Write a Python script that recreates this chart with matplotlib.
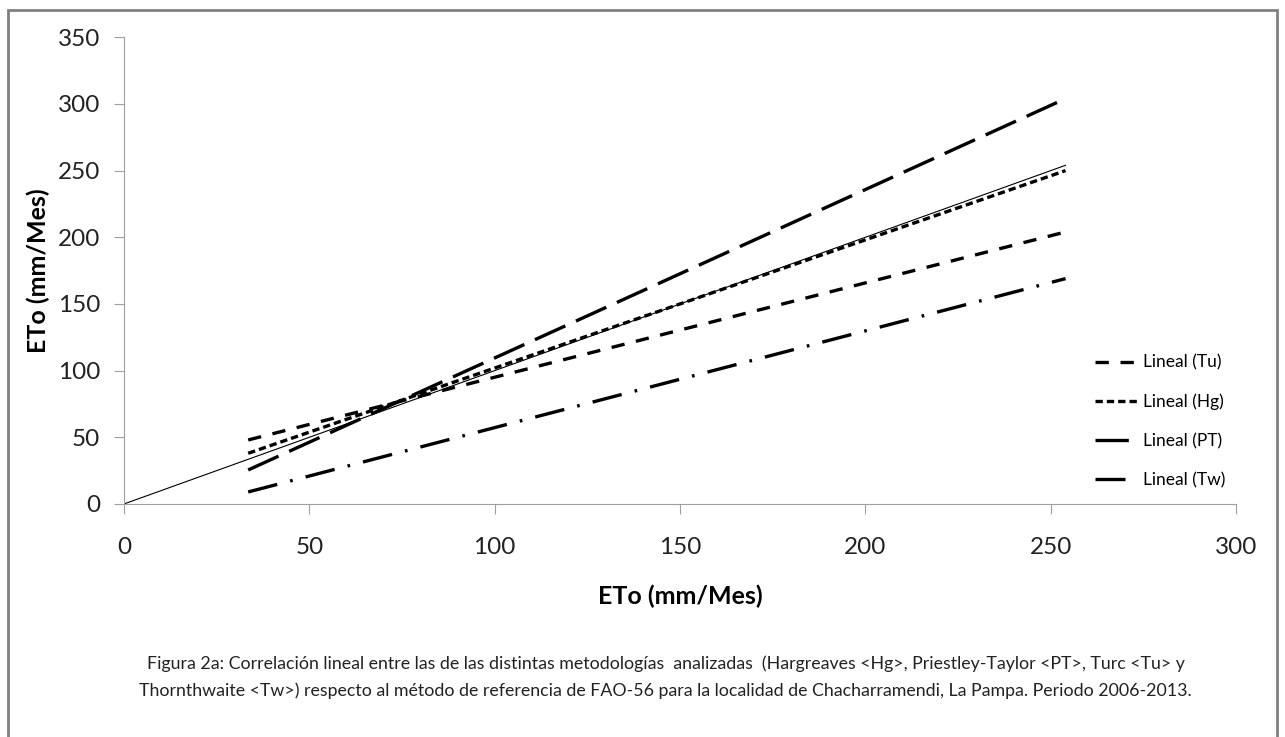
import matplotlib.pyplot as plt
from matplotlib.patches import Rectangle

plt.rcParams['font.family'] = ['Lato', 'DejaVu Sans']

# trend lines, read at both ends of the fitted range
x_ends = [33.5, 254]
tu_ends = [48, 204]
hg_ends = [38, 250]
pt_ends = [25.5, 304]
tw_ends = [9, 169]
ref_x = [0, 254]
ref_y = [0, 254]

labels = ['Lineal (Tu)', 'Lineal (Hg)', 'Lineal (PT)', 'Lineal (Tw)']
x_ticks = [0, 50, 100, 150, 200, 250, 300]
y_ticks = [0, 50, 100, 150, 200, 250, 300, 350]

caption = ("Figura 2a: Correlación lineal entre las de las distintas metodologías  analizadas  "
           "(Hargreaves <Hg>, Priestley-Taylor <PT>, Turc <Tu> y\n"
           "Thornthwaite <Tw>) respecto al método de referencia de FAO-56 para la localidad "
           "de Chacharramendi, La Pampa. Periodo 2006-2013.")

fig = plt.figure(figsize=(12.85, 7.37), dpi=100)
ax = fig.add_axes([0.0965, 0.3162, 0.8654, 0.6332])

ax.plot(ref_x, ref_y, color='black', linewidth=0.8)
lw = 2.4
ax.plot(x_ends, tu_ends, color='black', linewidth=lw, dashes=(4, 3.5), label=labels[0])
ax.plot(x_ends, hg_ends, color='black', linewidth=lw, dashes=(2.2, 1.2), label=labels[1])
ax.plot(x_ends, pt_ends, color='black', linewidth=lw, dashes=(10, 3.5), label=labels[2])
ax.plot(x_ends, tw_ends, color='black', linewidth=lw, dashes=(9, 4, 0.8, 4), label=labels[3])

ax.set_xlim(0, 300)
ax.set_ylim(0, 350)
ax.set_xticks(x_ticks)
ax.set_yticks(y_ticks)
ax.tick_params(labelsize=17.5, length=7, color='#a0a0a0', labelcolor='#222222')
ax.tick_params(axis='x', pad=17)
ax.tick_params(axis='y', pad=10)
for side in ['top', 'right']:
    ax.spines[side].set_visible(False)
for side in ['left', 'bottom']:
    ax.spines[side].set_color('#a0a0a0')

ax.set_xlabel('ETo (mm/Mes)', fontsize=18, fontweight='bold', labelpad=19)
ax.set_ylabel('ETo (mm/Mes)', fontsize=18, fontweight='bold', labelpad=6)

leg = ax.legend(loc='upper left', bbox_to_anchor=(0.873, 0.32), frameon=False,
                fontsize=12.5, handlelength=2.5, handletextpad=0.3, labelspacing=1.32,
                borderpad=0, borderaxespad=0)

fig.text(0.518, 0.081, caption, ha='center', va='center', fontsize=12.8,
         linespacing=1.75, color='#222222')

fig.patches.append(Rectangle((8 / 1285, -0.05), 1269 / 1285, 1.05 - 10 / 737,
                             transform=fig.transFigure, fill=False,
                             edgecolor='#808080', linewidth=2))

fig.savefig('out.png', dpi=100)
